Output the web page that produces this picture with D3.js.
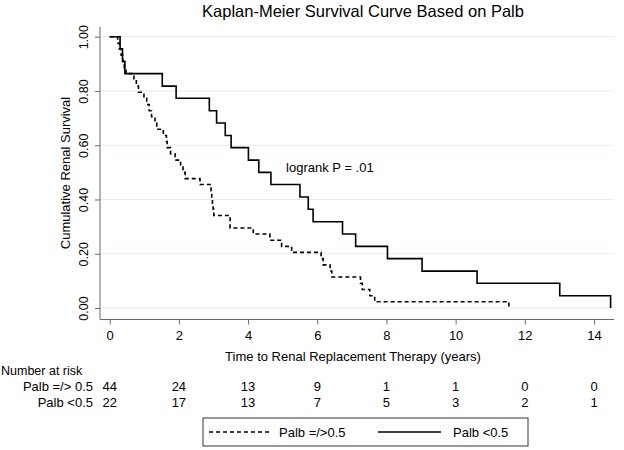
<!DOCTYPE html>
<html><head><meta charset="utf-8">
<script src="https://cdn.jsdelivr.net/npm/d3@7"></script>
<style>body{margin:0;background:#fff}svg{display:block}text{font-family:"Liberation Sans",Arial,sans-serif;fill:#000}</style>
</head><body><svg id="c" width="624" height="450"></svg>
<script>
// Palb =/> 0.5 (n=44) — event times and survival after each event
const highTimes = [0.23,0.28,0.33,0.38,0.42,0.47,0.70,0.77,0.83,0.99,1.07,1.14,1.21,1.31,1.36,1.55,1.64,1.66,1.76,1.89,2.05,2.12,2.18,2.61,2.93,2.95,2.97,2.99,3.01,3.48,4.15,4.63,4.97,5.26,6.11,6.17,6.37,6.42,7.25,7.30,7.52,7.66,11.54];
const highSurv  = [0.977,0.955,0.932,0.909,0.886,0.864,0.841,0.818,0.795,0.773,0.750,0.727,0.705,0.682,0.659,0.636,0.614,0.591,0.568,0.545,0.523,0.500,0.477,0.455,0.432,0.409,0.386,0.364,0.341,0.295,0.273,0.250,0.227,0.205,0.182,0.159,0.136,0.114,0.091,0.068,0.045,0.023,0];
// Palb <0.5 (n=22)
const lowTimes = [0.30,0.37,0.44,1.52,1.92,2.88,3.09,3.34,3.51,4.01,4.31,4.66,5.50,5.74,5.88,6.73,7.11,8.03,9.03,10.62,13.01,14.48];
const lowSurv  = [0.955,0.909,0.864,0.818,0.773,0.727,0.682,0.636,0.591,0.545,0.500,0.455,0.409,0.364,0.318,0.273,0.227,0.182,0.136,0.091,0.045,0];
// number at risk
const riskTimes = [0,2,4,6,8,10,12,14];
const riskHigh = [44,24,13,9,1,1,0,0];
const riskLow  = [22,17,13,7,5,3,2,1];
const yTicks = [0,0.2,0.4,0.6,0.8,1.0];
const groupLabels = ["Palb =/> 0.5","Palb <0.5"];
const legendLabels = ["Palb =/>0.5","Palb <0.5"];

const svg = d3.select("#c");
const x = d3.scaleLinear().domain([0,14]).range([109.7,594]);
const y = d3.scaleLinear().domain([0,1]).range([308,36.7]);
const axisColor = "#6b6b6b";
const fs = "13px";

// gridlines
svg.append("g").selectAll("line").data(yTicks).join("line")
  .attr("x1",100).attr("x2",614).attr("y1",d=>y(d)).attr("y2",d=>y(d))
  .attr("stroke","#e4ebf3").attr("stroke-width",1);

// y axis
const yAxis = svg.append("g").attr("transform","translate(100,0)")
  .call(d3.axisLeft(y).tickValues(yTicks).tickFormat(d3.format(".2f")).tickSize(5).tickPadding(0));
yAxis.select(".domain").attr("d","M0,26.7V319.5").attr("stroke",axisColor);
yAxis.selectAll(".tick line").attr("stroke",axisColor);
yAxis.selectAll(".tick text").attr("x",0).attr("y",0).attr("dy",null)
  .attr("transform","translate(-12,0) rotate(-90)").attr("text-anchor","middle")
  .attr("font-size","12.5px").attr("font-family","Liberation Sans, Arial, sans-serif").attr("fill","#000");

// x axis
const xAxis = svg.append("g").attr("transform","translate(0,319.5)")
  .call(d3.axisBottom(x).tickValues(riskTimes).tickFormat(d3.format("d")).tickSize(5).tickPadding(6));
xAxis.select(".domain").attr("d","M100,0H614").attr("stroke",axisColor);
xAxis.selectAll(".tick line").attr("stroke",axisColor);
xAxis.selectAll(".tick text").attr("font-size",fs).attr("font-family","Liberation Sans, Arial, sans-serif").attr("fill","#000");

// curves
const line = d3.line().x(d=>x(d[0])).y(d=>y(d[1])).curve(d3.curveStepAfter);
const highData = [[0,1]].concat(highTimes.map((t,i)=>[t,highSurv[i]]));
const lowData = [[0,1]].concat(lowTimes.map((t,i)=>[t,lowSurv[i]]));
svg.append("path").attr("d",line(lowData)).attr("fill","none").attr("stroke","#000").attr("stroke-width",1.6);
svg.append("path").attr("d",line(highData)).attr("fill","none").attr("stroke","#000").attr("stroke-width",1.6).attr("stroke-dasharray","4,3");

// titles
svg.append("text").attr("x",363).attr("y",17).attr("text-anchor","middle").attr("font-size","16.5px").text("Kaplan-Meier Survival Curve Based on Palb");
svg.append("text").attr("transform","translate(70,173) rotate(-90)").attr("text-anchor","middle").attr("font-size",fs).text("Cumulative Renal Survival");
svg.append("text").attr("x",353).attr("y",361).attr("text-anchor","middle").attr("font-size",fs).text("Time to Renal Replacement Therapy (years)");
svg.append("text").attr("x",x(5.1)).attr("y",y(0.52)+5).attr("text-anchor","start").attr("font-size",fs).text("logrank P = .01");

// number at risk
svg.append("text").attr("x",1).attr("y",375).attr("font-size","12.5px").text("Number at risk");
[riskHigh,riskLow].forEach((row,ri)=>{
  const yy = 391 + ri*16;
  svg.append("text").attr("x",93).attr("y",yy).attr("text-anchor","end").attr("font-size",fs).text(groupLabels[ri]);
  svg.append("g").selectAll("text").data(row).join("text")
    .attr("x",(d,i)=>x(riskTimes[i])).attr("y",yy).attr("text-anchor","middle").attr("font-size",fs).text(d=>d);
});

// legend
const lg = svg.append("g");
lg.append("rect").attr("x",203).attr("y",418).attr("width",325).attr("height",28).attr("fill","#fff").attr("stroke","#333").attr("stroke-width",1);
lg.append("line").attr("x1",209).attr("x2",272).attr("y1",432).attr("y2",432).attr("stroke","#000").attr("stroke-width",1.6).attr("stroke-dasharray","4,3");
lg.append("text").attr("x",279).attr("y",436.5).attr("font-size",fs).text(legendLabels[0]);
lg.append("line").attr("x1",378).attr("x2",441).attr("y1",432).attr("y2",432).attr("stroke","#000").attr("stroke-width",1.6);
lg.append("text").attr("x",453).attr("y",436.5).attr("font-size",fs).text(legendLabels[1]);
</script></body></html>
